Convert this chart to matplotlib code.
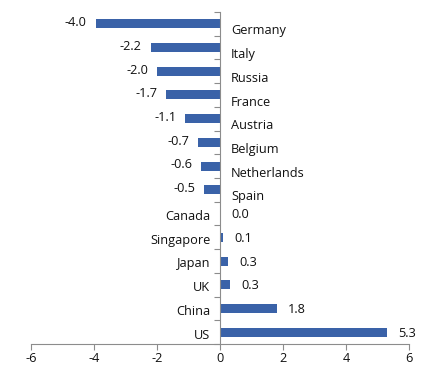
import matplotlib.pyplot as plt
import numpy as np

plt.rcParams['font.family'] = ['Open Sans', 'DejaVu Sans']

# data (top to bottom)
countries = ['Germany', 'Italy', 'Russia', 'France', 'Austria', 'Belgium', 'Netherlands',
             'Spain', 'Canada', 'Singapore', 'Japan', 'UK', 'China', 'US']
values = [-3.95, -2.2, -2.0, -1.7, -1.1, -0.7, -0.6, -0.5, 0.02, 0.1, 0.26, 0.32, 1.8, 5.3]
x_ticks = [-6, -4, -2, 0, 2, 4, 6]

bar_color = '#3A62A8'
axis_color = '#8C8C8C'
text_color = '#111111'

fig = plt.figure(figsize=(4.25, 3.72), dpi=100)
ax = fig.add_axes([0.073, 0.075, 0.889, 0.893])

n = len(countries)
ypos = np.arange(n)
ax.barh(ypos, values, height=0.38, color=bar_color, zorder=2)

ax.set_ylim(n - 0.5, -0.5)
ax.set_xlim(-6, 6)
ax.set_xticks(x_ticks)
ax.set_xticklabels([str(t) for t in x_ticks], fontsize=9.2, color=text_color)

# y axis sits on zero with ticks at category boundaries
ax.spines['left'].set_position(('data', 0))
ax.spines['right'].set_visible(False)
ax.spines['top'].set_visible(False)
ax.spines['left'].set_color(axis_color)
ax.spines['bottom'].set_color(axis_color)
ax.set_yticks(np.arange(-0.5, n, 1.0))
ax.set_yticklabels([])
ax.tick_params(axis='y', direction='out', length=4, color=axis_color)
ax.tick_params(axis='x', direction='out', length=4, color=axis_color, pad=2)

for y, v, name in zip(ypos, values, countries):
    label = f"{v:.1f}"
    if v < 0:
        ax.text(v - 0.28, y - 0.05, label, ha='right', va='center', fontsize=9.2, color=text_color)
        ax.text(0.35, y + 0.3, name, ha='left', va='center', fontsize=9.2, color=text_color)
    else:
        ax.text(v + 0.35, y + 0.05, label, ha='left', va='center', fontsize=9.2, color=text_color)
        ax.text(-0.3, y + 0.12, name, ha='right', va='center', fontsize=9.2, color=text_color)

fig.savefig('out.png', dpi=100)
